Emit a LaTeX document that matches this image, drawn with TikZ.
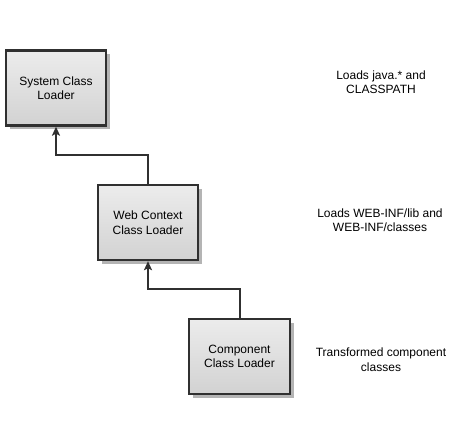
\documentclass[tikz,border=0pt]{standalone}
\usepackage{fontspec}
\setmainfont{Liberation Sans}
\usetikzlibrary{shadows,arrows.meta}
\definecolor{edgec}{HTML}{303030}
\definecolor{shadc}{HTML}{B4B4B4}
\definecolor{topc}{HTML}{ECECEC}
\definecolor{botc}{HTML}{D2D2D2}
\begin{document}
\begin{tikzpicture}[x=1pt,y=-1pt,
  loader/.style={draw=edgec, line width=2.4pt, top color=topc, bottom color=botc,
    minimum width=100pt, minimum height=75pt, inner sep=0pt, align=center,
    font=\fontsize{12}{14.5}\selectfont,
    drop shadow={shadow xshift=4pt, shadow yshift=-4pt, fill=shadc, opacity=1}},
  note/.style={align=center, font=\fontsize{12}{14.5}\selectfont, inner sep=0pt},
  conn/.style={draw=edgec, line width=2pt, -{Stealth[length=9pt,width=8pt,inset=2pt]}}]
\useasboundingbox (0,0) rectangle (475,425);
\node[loader] (sys) at (56,88) {System Class\\Loader};
\node[loader] (web) at (148,222.5) {Web Context\\Class Loader};
\node[loader, minimum width=101pt] (comp) at (239.5,356.5) {Component\\Class Loader};
\node[note] (n1) at (381,82) {Loads java.* and\\CLASSPATH};
\node[note] (n2) at (380,220) {Loads WEB-INF/lib and\\WEB-INF/classes};
\node[note] (n3) at (381,359.5) {Transformed component\\classes};
\coordinate (j1) at (0,155);
\coordinate (j2) at (0,289);
\draw[conn] (web.north) -- (web.north |- j1) -| (sys.south);
\draw[conn] (comp.north) -- (comp.north |- j2) -| (web.south);
\end{tikzpicture}
\end{document}
